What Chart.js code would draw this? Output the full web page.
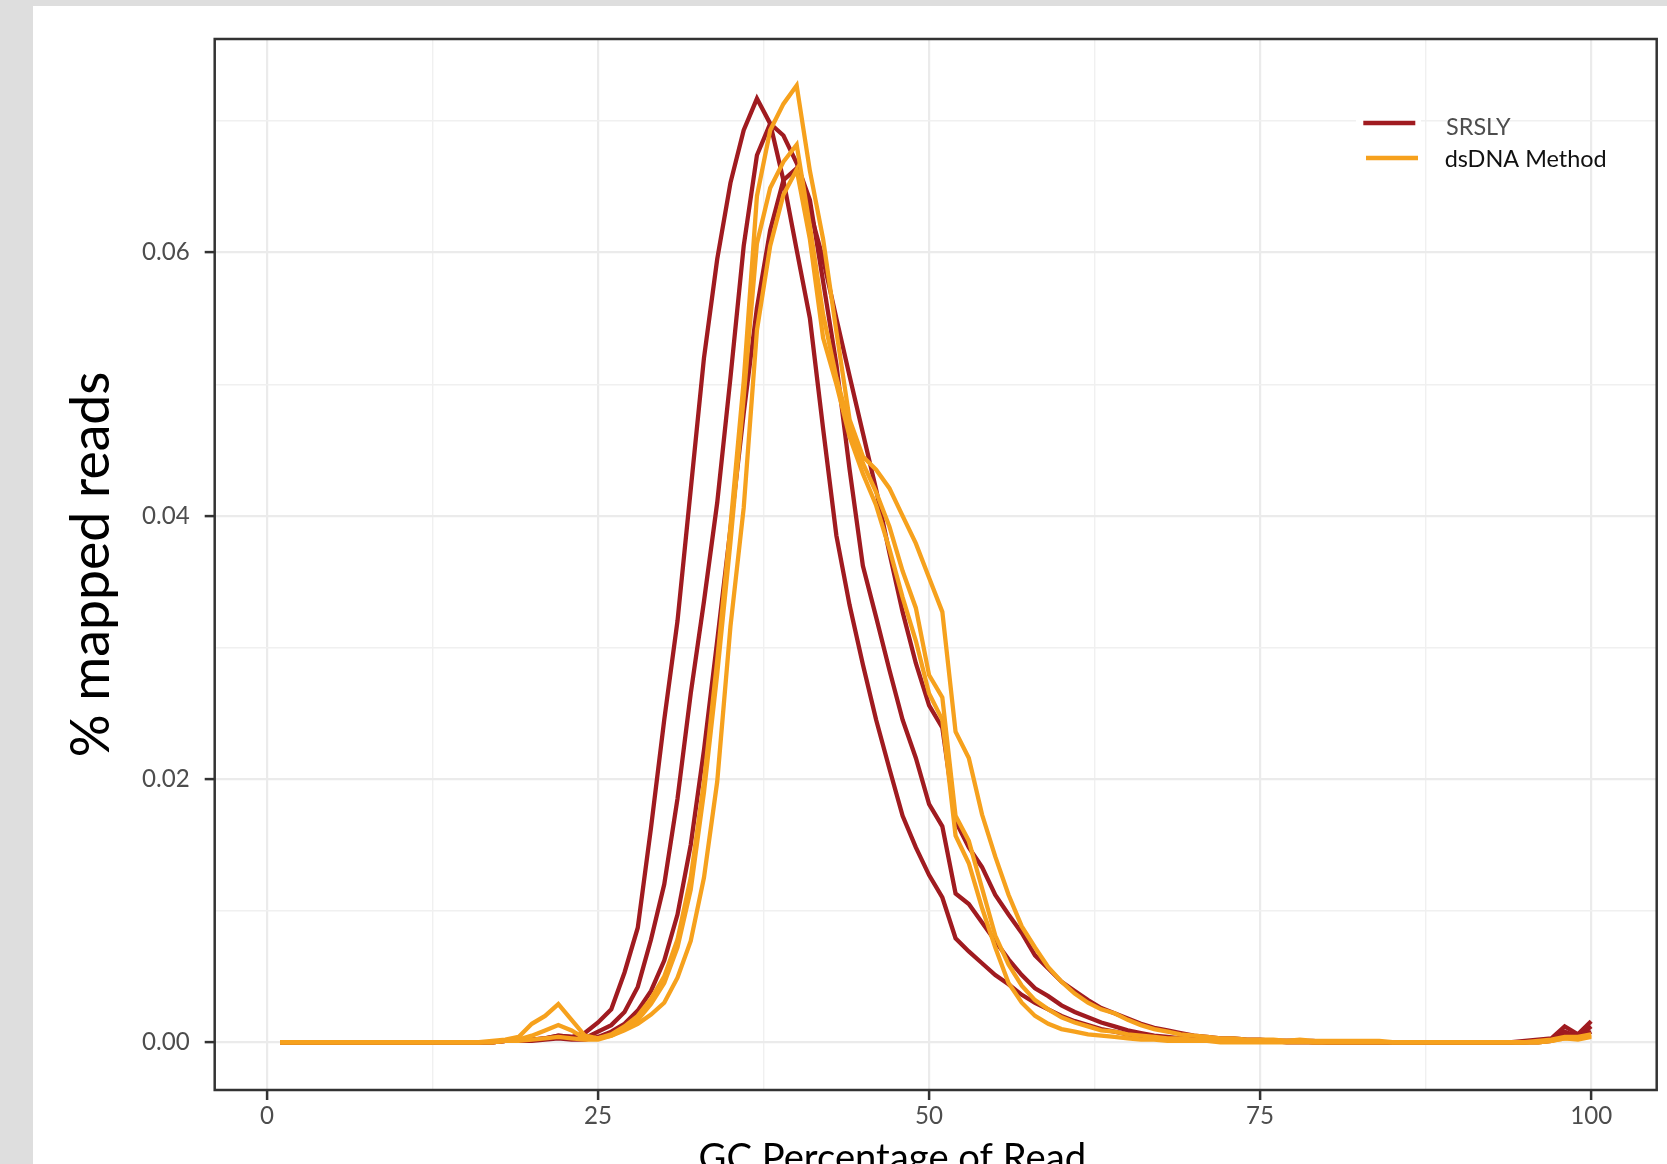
<!DOCTYPE html>
<html>
<head>
<meta charset="utf-8">
<script src="https://cdn.jsdelivr.net/npm/chart.js@4.4.1/dist/chart.umd.min.js"></script>
<style>
  html, body { margin: 0; padding: 0; width: 1667px; height: 1164px; overflow: hidden; background: #DEDEDE; }
  #panel { position: absolute; left: 33px; top: 6px; width: 1634px; height: 1158px; background: #FFFFFF; }
  canvas { display: block; }
</style>
</head>
<body>
<div id="panel"><canvas id="chart" width="1634" height="1158"></canvas></div>
<script>
// ---------------- data ----------------
const gcPercent = [
  1,2,3,4,5,6,7,8,9,10,
  11,12,13,14,15,16,17,18,19,20,
  21,22,23,24,25,26,27,28,29,30,
  31,32,33,34,35,36,37,38,39,40,
  41,42,43,44,45,46,47,48,49,50,
  51,52,53,54,55,56,57,58,59,60,
  61,62,63,64,65,66,67,68,69,70,
  71,72,73,74,75,76,77,78,79,80,
  81,82,83,84,85,86,87,88,89,90,
  91,92,93,94,95,96,97,98,99,100
];

const srslyRun1 = [
  0,0,0,0,0,0,0,0,0,0,
  0,0,0,0,0,0,0,0.0001,0.0001,0.0002,
  0.0003,0.0005,0.0004,0.0007,0.0015,0.0025,0.0053,0.0087,0.0163,0.0245,
  0.0320,0.0420,0.0520,0.0595,0.0653,0.0693,0.0717,0.0698,0.0655,0.0602,
  0.0550,0.0466,0.0385,0.0332,0.0287,0.0245,0.0208,0.0172,0.0148,0.0127,
  0.0110,0.0079,0.0069,0.0060,0.0051,0.0044,0.0036,0.0030,0.0025,0.0020,
  0.0016,0.0013,0.0010,0.0008,0.0006,0.0005,0.0004,0.0003,0.0002,0.0002,
  0.0001,0.0001,0.0001,0.0001,0.0001,0.0001,0.0001,0.0001,0,0,
  0,0,0,0,0,0,0,0,0,0,
  0,0,0,0,0.0001,0.0002,0.0003,0.0012,0.0006,0.0016
];

const srslyRun2 = [
  0,0,0,0,0,0,0,0,0,0,
  0,0,0,0,0,0,0,0.0001,0.0001,0.0002,
  0.0003,0.0005,0.0004,0.0003,0.0008,0.0013,0.0023,0.0042,0.0078,0.0120,
  0.0185,0.0265,0.0335,0.0410,0.0505,0.0605,0.0674,0.0698,0.0689,0.0668,
  0.0640,0.0578,0.0515,0.0435,0.0362,0.0323,0.0283,0.0245,0.0216,0.0181,
  0.0164,0.0113,0.0105,0.0091,0.0077,0.0063,0.0051,0.0041,0.0035,0.0028,
  0.0023,0.0019,0.0015,0.0012,0.0009,0.0007,0.0005,0.0004,0.0003,0.0002,
  0.0002,0.0001,0.0001,0.0001,0.0001,0.0001,0,0,0,0,
  0,0,0,0,0,0,0,0,0,0,
  0,0,0,0,0,0.0001,0.0002,0.0008,0.0004,0.0012
];

const srslyRun3 = [
  0,0,0,0,0,0,0,0,0,0,
  0,0,0,0,0,0,0,0.0001,0.0001,0.0001,
  0.0002,0.0003,0.0002,0.0002,0.0004,0.0008,0.0014,0.0024,0.0039,0.0062,
  0.0097,0.0150,0.0222,0.0305,0.0390,0.0478,0.0558,0.0617,0.0655,0.0664,
  0.0632,0.0595,0.0550,0.0506,0.0463,0.0420,0.0372,0.0327,0.0288,0.0256,
  0.0239,0.0168,0.0148,0.0133,0.0112,0.0097,0.0083,0.0066,0.0056,0.0046,
  0.0039,0.0032,0.0026,0.0022,0.0018,0.0014,0.0011,0.0009,0.0007,0.0005,
  0.0004,0.0003,0.0003,0.0002,0.0002,0.0001,0.0001,0.0001,0.0001,0,
  0,0,0,0,0,0,0,0,0,0,
  0,0,0,0,0,0,0.0001,0.0005,0.0003,0.0008
];

const dsdnaRun1 = [
  0,0,0,0,0,0,0,0,0,0,
  0,0,0,0,0,0,0.0001,0.0002,0.0004,0.0014,
  0.0020,0.0029,0.0017,0.0005,0.0003,0.0006,0.0012,0.0020,0.0033,0.0050,
  0.0078,0.0125,0.0198,0.0290,0.0392,0.0502,0.0643,0.0693,0.0713,0.0727,
  0.0662,0.0610,0.0540,0.0473,0.0445,0.0435,0.0421,0.0400,0.0379,0.0353,
  0.0327,0.0236,0.0216,0.0173,0.0141,0.0112,0.0088,0.0072,0.0057,0.0046,
  0.0037,0.0030,0.0025,0.0022,0.0017,0.0013,0.0010,0.0008,0.0006,0.0005,
  0.0004,0.0003,0.0003,0.0002,0.0002,0.0002,0.0001,0.0002,0.0001,0.0001,
  0.0001,0.0001,0.0001,0.0001,0,0,0,0,0,0,
  0,0,0,0,0,0.0001,0.0002,0.0004,0.0004,0.0006
];

const dsdnaRun2 = [
  0,0,0,0,0,0,0,0,0,0,
  0,0,0,0,0,0,0,0.0001,0.0002,0.0005,
  0.0009,0.0013,0.0009,0.0003,0.0003,0.0005,0.0010,0.0017,0.0029,0.0045,
  0.0072,0.0116,0.0190,0.0280,0.0380,0.0490,0.0607,0.0649,0.0669,0.0682,
  0.0620,0.0553,0.0505,0.0468,0.0440,0.0418,0.0392,0.0358,0.0330,0.0279,
  0.0262,0.0172,0.0153,0.0117,0.0081,0.0059,0.0043,0.0032,0.0025,0.0019,
  0.0015,0.0012,0.0009,0.0008,0.0006,0.0005,0.0004,0.0003,0.0003,0.0002,
  0.0002,0.0001,0.0001,0.0001,0.0001,0.0001,0.0001,0.0001,0,0,
  0,0,0,0,0,0,0,0,0,0,
  0,0,0,0,0,0,0.0001,0.0003,0.0003,0.0005
];

const dsdnaRun3 = [
  0,0,0,0,0,0,0,0,0,0,
  0,0,0,0,0,0,0,0.0001,0.0001,0.0002,
  0.0003,0.0004,0.0003,0.0002,0.0002,0.0005,0.0009,0.0014,0.0021,0.0030,
  0.0049,0.0077,0.0125,0.0198,0.0316,0.0406,0.0541,0.0605,0.0644,0.0663,
  0.0610,0.0535,0.0500,0.0460,0.0432,0.0408,0.0375,0.0338,0.0305,0.0265,
  0.0245,0.0157,0.0136,0.0102,0.0072,0.0045,0.0030,0.0020,0.0014,0.0010,
  0.0008,0.0006,0.0005,0.0004,0.0003,0.0002,0.0002,0.0001,0.0001,0.0001,
  0.0001,0,0,0,0,0,0,0,0,0,
  0,0,0,0,0,0,0,0,0,0,
  0,0,0,0,0,0,0.0001,0.0003,0.0002,0.0004
];

const legendLabels = ['SRSLY', 'dsDNA Method'];
const xTickValues = [0, 25, 50, 75, 100];
const xTickLabels = ['0', '25', '50', '75', '100'];
const xMinorValues = [12.5, 37.5, 62.5, 87.5];
const yTickValues = [0, 0.02, 0.04, 0.06];
const yTickLabels = ['0.00', '0.02', '0.04', '0.06'];
const yMinorValues = [0.01, 0.03, 0.05, 0.07];
const xTitle = 'GC Percentage of Read';
const yTitle = '% mapped reads';

// ---------------- styling ----------------
const RED = '#A01B20';
const ORANGE = '#F6A11D';
const FONT = 'Lato, "Open Sans", sans-serif';
const LINE_W = 4.3;

const measureCanvas = document.createElement('canvas').getContext('2d');
function inkSize(text, size, weight) {
  measureCanvas.font = (weight || 'normal') + ' ' + size + 'px ' + FONT;
  const m = measureCanvas.measureText(text);
  return { w: m.actualBoundingBoxLeft + m.actualBoundingBoxRight, left: m.actualBoundingBoxLeft,
           asc: m.actualBoundingBoxAscent, desc: m.actualBoundingBoxDescent };
}
function fitSize(text, target) {
  return 100 * target / inkSize(text, 100).w;
}
const tickFontSize = fitSize('0.06', 46);
const legendFontSize = fitSize('dsDNA Method', 159.5);
const yTitleSize = fitSize(yTitle, 382);
const xTitleSize = fitSize(xTitle, 383.5);

function near(v, list) { return list.some(t => Math.abs(t - v) < 1e-9); }
function idxOf(v, list) { return list.findIndex(t => Math.abs(t - v) < 1e-9); }

const toPoints = vals => gcPercent.map((g, i) => ({ x: g, y: vals[i] }));

const series = [
  { name: legendLabels[1], values: dsdnaRun1, color: ORANGE },
  { name: legendLabels[1], values: dsdnaRun2, color: ORANGE },
  { name: legendLabels[1], values: dsdnaRun3, color: ORANGE },
  { name: legendLabels[0], values: srslyRun1, color: RED },
  { name: legendLabels[0], values: srslyRun2, color: RED },
  { name: legendLabels[0], values: srslyRun3, color: RED }
];

// canvas coordinates of the panel
const AREA = { left: 181.7, top: 33, right: 1623.7, bottom: 1084 };
const CANVAS_W = 1634, CANVAS_H = 1158;

const panelBorder = {
  id: 'panelBorder',
  afterDatasetsDraw(chart) {
    const { ctx, chartArea: a } = chart;
    ctx.save();
    ctx.strokeStyle = '#333333';
    ctx.lineWidth = 2.5;
    ctx.strokeRect(a.left, a.top, a.right - a.left, a.bottom - a.top);
    ctx.restore();
  }
};

const customText = {
  id: 'customText',
  afterDraw(chart) {
    const ctx = chart.ctx;
    ctx.save();
    // legend key backgrounds
    ctx.fillStyle = '#FFFFFF';
    ctx.fillRect(1323, 99, 65, 70);
    // legend keys
    ctx.lineWidth = 4.5;
    ctx.lineCap = 'butt';
    ctx.strokeStyle = RED;
    ctx.beginPath(); ctx.moveTo(1330.3, 117); ctx.lineTo(1382.3, 117); ctx.stroke();
    ctx.strokeStyle = ORANGE;
    ctx.beginPath(); ctx.moveTo(1333, 152); ctx.lineTo(1385, 152); ctx.stroke();
    // legend labels
    ctx.font = 'normal ' + legendFontSize + 'px ' + FONT;
    ctx.textAlign = 'left';
    ctx.textBaseline = 'alphabetic';
    let s = inkSize(legendLabels[0], legendFontSize);
    ctx.fillStyle = '#4D4D4D';
    ctx.fillText(legendLabels[0], 1413 + s.left, 129);
    s = inkSize(legendLabels[1], legendFontSize);
    ctx.fillStyle = '#111111';
    ctx.fillText(legendLabels[1], 1412.7 + s.left, 160.7);

    // x axis title
    ctx.font = 'normal ' + xTitleSize + 'px ' + FONT;
    const capH = inkSize('G', xTitleSize).asc;
    s = inkSize(xTitle, xTitleSize);
    ctx.fillStyle = '#000000';
    ctx.fillText(xTitle, 666.5 + s.left, 1137.3 + capH);

    // y axis title (rotated)
    ctx.font = 'normal ' + yTitleSize + 'px ' + FONT;
    s = inkSize(yTitle, yTitleSize);
    const inkMid = 60; // canvas x of ink centre
    const baseX = inkMid + (s.asc - s.desc) / 2;
    ctx.translate(baseX, 558);
    ctx.rotate(-Math.PI / 2);
    ctx.textAlign = 'left';
    ctx.fillText(yTitle, -s.w / 2 + s.left, 0);
    ctx.restore();
  }
};

const majorGrid = '#EBEBEB', minorGrid = '#F0F0F0';

new Chart(document.getElementById('chart'), {
  type: 'line',
  data: {
    datasets: series.map(s => ({
      label: s.name,
      data: toPoints(s.values),
      borderColor: s.color,
      backgroundColor: s.color,
      borderWidth: LINE_W,
      pointRadius: 0,
      tension: 0,
      fill: false
    }))
  },
  options: {
    responsive: false,
    animation: false,
    devicePixelRatio: 1,
    parsing: true,
    layout: { padding: { left: 0, top: AREA.top, right: CANVAS_W - AREA.right, bottom: 0 } },
    plugins: { legend: { display: false }, tooltip: { enabled: false }, title: { display: false } },
    scales: {
      x: {
        type: 'linear',
        position: 'bottom',
        min: -3.95,
        max: 104.95,
        afterBuildTicks: sc => { sc.ticks = xTickValues.concat(xMinorValues).sort((a, b) => a - b).map(v => ({ value: v })); },
        afterFit: sc => { sc.height = CANVAS_H - AREA.bottom; },
        border: { display: false },
        grid: {
          color: c => (c.tick && near(c.tick.value, xTickValues)) ? majorGrid : minorGrid,
          lineWidth: c => (c.tick && near(c.tick.value, xTickValues)) ? 2.2 : 1.4,
          drawTicks: true,
          tickLength: 10,
          tickWidth: 2.5,
          tickColor: c => (c.tick && near(c.tick.value, xTickValues)) ? '#333333' : 'rgba(0,0,0,0)'
        },
        ticks: {
          autoSkip: false,
          maxRotation: 0,
          minRotation: 0,
          padding: 2,
          color: '#4D4D4D',
          font: { family: FONT, size: tickFontSize },
          callback: v => { const i = idxOf(v, xTickValues); return i >= 0 ? xTickLabels[i] : ''; }
        }
      },
      y: {
        type: 'linear',
        position: 'left',
        min: -0.00363,
        max: 0.07623,
        afterBuildTicks: sc => { sc.ticks = yTickValues.concat(yMinorValues).sort((a, b) => a - b).map(v => ({ value: v })); },
        afterFit: sc => { sc.width = AREA.left; },
        border: { display: false },
        grid: {
          color: c => (c.tick && near(c.tick.value, yTickValues)) ? majorGrid : minorGrid,
          lineWidth: c => (c.tick && near(c.tick.value, yTickValues)) ? 2.2 : 1.4,
          drawTicks: true,
          tickLength: 10,
          tickWidth: 2.5,
          tickColor: c => (c.tick && near(c.tick.value, yTickValues)) ? '#333333' : 'rgba(0,0,0,0)'
        },
        ticks: {
          autoSkip: false,
          padding: 15,
          color: '#4D4D4D',
          font: { family: FONT, size: tickFontSize },
          callback: v => { const i = idxOf(v, yTickValues); return i >= 0 ? yTickLabels[i] : ''; }
        }
      }
    }
  },
  plugins: [panelBorder, customText]
});
</script>
</body>
</html>
